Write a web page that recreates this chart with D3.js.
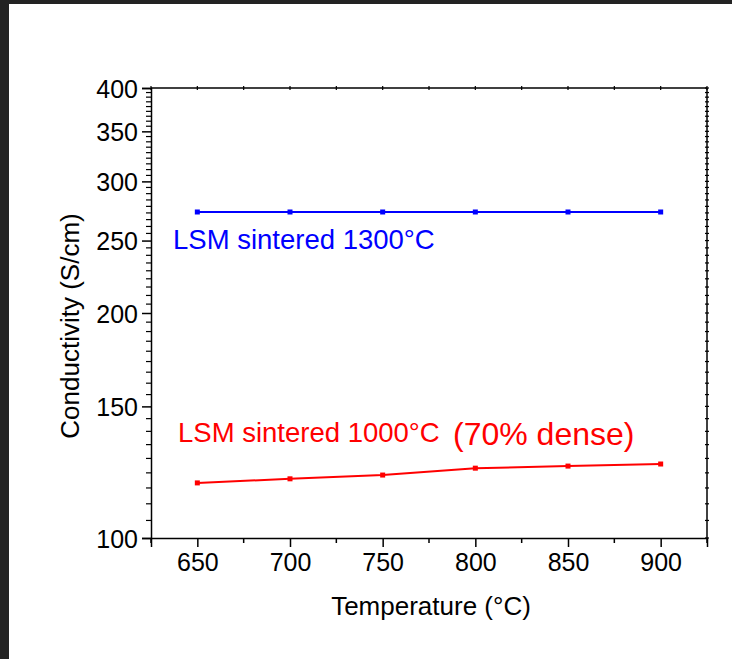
<!DOCTYPE html>
<html>
<head>
<meta charset="utf-8">
<script src="https://cdn.jsdelivr.net/npm/d3@7/dist/d3.min.js"></script>
<style>
  html, body { margin: 0; padding: 0; background: #232323; }
  svg { display: block; }
  text { font-family: "Liberation Sans", Arial, sans-serif; }
</style>
</head>
<body>
<svg id="chart" width="732" height="659"></svg>
<script>
// Conductivity of LSM versus temperature, two sintering conditions
const temperatures = [650, 700, 750, 800, 850, 900];
const lsm1300 = [273, 273, 273, 273, 273, 273];
const lsm1000 = [118.5, 120, 121.4, 124, 124.8, 125.6];
const xTicks = [650, 700, 750, 800, 850, 900];
const yTicks = [100, 150, 200, 250, 300, 350, 400];

const svg = d3.select("#chart");
const W = 732, H = 659;

// page panel
svg.append("rect").attr("x", 9).attr("y", 4).attr("width", W - 9).attr("height", H - 4).attr("fill", "#ffffff");

const plot = { left: 151, right: 707, top: 88, bottom: 538 };

const x = d3.scaleLinear().domain([625, 925]).range([plot.left, plot.right]);
const y = d3.scaleLog().domain([100, 400]).range([plot.bottom, plot.top]);

// minor ticks: x every 25, y eight per major interval
const xMinor = d3.range(625, 926, 50);
const yMinor = [];
for (let i = 0; i < yTicks.length - 1; i++) {
  const a = yTicks[i], b = yTicks[i + 1];
  for (let k = 1; k <= 8; k++) yMinor.push(a + (b - a) * k / 9);
}

const g = svg.append("g");

// bottom axis
const bottom = g.append("g").attr("transform", `translate(0,${plot.bottom})`)
  .call(d3.axisBottom(x).tickValues(xTicks).tickSize(9).tickPadding(6).tickFormat(d3.format("d")));
bottom.append("g").selectAll("line").data(xMinor).join("line")
  .attr("x1", d => x(d)).attr("x2", d => x(d)).attr("y1", 0).attr("y2", 5)
  .attr("stroke", "#000").attr("stroke-width", 1.5);

// left axis
const left = g.append("g").attr("transform", `translate(${plot.left},0)`)
  .call(d3.axisLeft(y).tickValues(yTicks).tickSize(9).tickPadding(4).tickFormat(d3.format("d")));
left.append("g").selectAll("line").data(yMinor).join("line")
  .attr("y1", d => y(d)).attr("y2", d => y(d)).attr("x1", -5).attr("x2", 1)
  .attr("stroke", "#000").attr("stroke-width", 1.2);

[bottom, left].forEach(a => {
  a.select(".domain").attr("stroke", "#000").attr("stroke-width", 1.5);
  a.selectAll(".tick line").attr("stroke", "#000").attr("stroke-width", 1.5);
  a.selectAll(".tick text").attr("fill", "#000").style("font-size", "25px")
    .style("font-family", "'Liberation Sans', Arial, sans-serif");
});
left.selectAll(".tick text").attr("dy", "0.36em");

// top and right frame with small crossing ticks
g.append("line").attr("x1", plot.left).attr("x2", plot.right).attr("y1", plot.top).attr("y2", plot.top)
  .attr("stroke", "#000").attr("stroke-width", 1.5);
g.append("line").attr("x1", plot.right).attr("x2", plot.right).attr("y1", plot.top).attr("y2", plot.bottom)
  .attr("stroke", "#000").attr("stroke-width", 1.5);
g.append("g").selectAll("line").data(xTicks.concat(xMinor)).join("line")
  .attr("x1", d => x(d)).attr("x2", d => x(d)).attr("y1", plot.top - 2).attr("y2", plot.top + 2)
  .attr("stroke", "#000").attr("stroke-width", 1.2);
g.append("g").selectAll("line").data(yTicks.concat(yMinor)).join("line")
  .attr("y1", d => y(d)).attr("y2", d => y(d)).attr("x1", plot.right - 2).attr("x2", plot.right + 2)
  .attr("stroke", "#000").attr("stroke-width", 1.2);

// axis titles
svg.append("text").attr("x", 431).attr("y", 615).attr("text-anchor", "middle")
  .style("font-size", "26px").attr("fill", "#000").text("Temperature (°C)");
svg.append("text").attr("transform", "translate(79,326) rotate(-90)").attr("text-anchor", "middle")
  .style("font-size", "26px").attr("fill", "#000").text("Conductivity (S/cm)");

// series
const series = [
  { values: lsm1300, color: "#0000ff" },
  { values: lsm1000, color: "#ff0000" }
];
const line = d3.line().x(d => x(d[0])).y(d => y(d[1]));
series.forEach(s => {
  const pts = temperatures.map((t, i) => [t, s.values[i]]);
  svg.append("path").datum(pts).attr("d", line).attr("fill", "none")
    .attr("stroke", s.color).attr("stroke-width", 2);
  svg.append("g").selectAll("rect").data(pts).join("rect")
    .attr("x", d => x(d[0]) - 2.5).attr("y", d => y(d[1]) - 2.5)
    .attr("width", 5).attr("height", 5).attr("fill", s.color);
});

// annotations
svg.append("text").attr("x", 173).attr("y", 249).style("font-size", "27.5px")
  .attr("fill", "#0000ff").text("LSM sintered 1300°C");
svg.append("text").attr("x", 178).attr("y", 442).style("font-size", "27.5px")
  .attr("fill", "#ff0000").text("LSM sintered 1000°C");
svg.append("text").attr("x", 453).attr("y", 445).style("font-size", "32px")
  .attr("fill", "#ff0000").text("(70% dense)");
</script>
</body>
</html>
